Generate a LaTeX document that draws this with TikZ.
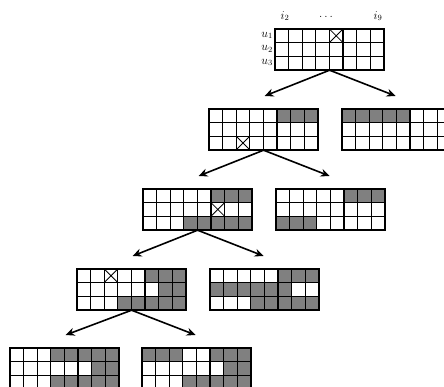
\documentclass[tikz,border=0pt]{standalone}
\usetikzlibrary{arrows.meta,calc}
\tikzset{
  gridbox/.style={draw=none, inner sep=0pt, minimum width=108.8pt, minimum height=40.8pt, anchor=north west},
  cellline/.style={line width=1.2pt},
  frameline/.style={line width=1.9pt},
  shadecell/.style={fill=gray},
  crossline/.style={line width=0.8pt},
  arr/.style={line width=1.6pt, -{Stealth[length=9pt,width=8pt]}},
  lab/.style={inner sep=0pt, font=\large}
}
\newcommand\mygrid[4]{%
  \begin{scope}[shift={#2}]
    \node[gridbox] (#1) at (0,0) {};
    \foreach \r/\c in {#3} {\fill[shadecell] ({(\c-1)*13.6},{(\r-1)*13.6}) rectangle ++(13.6,13.6);}
    \foreach \i in {1,...,7} {\draw[cellline] ({\i*13.6},0) -- ++(0,40.8);}
    \foreach \j in {1,2} {\draw[cellline] (0,{\j*13.6}) -- ++(108.8,0);}
    \foreach \r/\c in {#4} {\draw[crossline] ({(\c-1)*13.6},{(\r-1)*13.6}) -- ++(13.6,13.6) ({\c*13.6},{(\r-1)*13.6}) -- ++(-13.6,13.6);}
    \draw[frameline] (0,0) rectangle (108.8,40.8);
  \end{scope}}
\begin{document}
\begin{tikzpicture}[x=1pt,y=-1pt]
  \useasboundingbox (0,0) rectangle (444,387);
  \clip (0,0) rectangle (444,387);
  % level 1
  \mygrid{g1}{(275,29)}{}{1/5}
  \node[lab] (i2) at (285,16) {$i_2$};
  \node[lab] (dots) at (326,17) {$\dots$};
  \node[lab] (i9) at (378,16) {$i_9$};
  \node[lab, anchor=east] (u1) at (273,35.5) {$u_1$};
  \node[lab, anchor=east] (u2) at (273,49) {$u_2$};
  \node[lab, anchor=east] (u3) at (273,62.5) {$u_3$};
  % level 2
  \mygrid{g2l}{(209,109)}{1/6,1/7,1/8}{3/3}
  \mygrid{g2r}{(342,109)}{1/1,1/2,1/3,1/4,1/5}{}
  % level 3
  \mygrid{g3l}{(143,189)}{1/6,1/7,1/8,3/4,3/5,3/6,3/7,3/8}{2/6}
  \mygrid{g3r}{(276,189)}{1/6,1/7,1/8,3/1,3/2,3/3}{}
  % level 4
  \mygrid{g4l}{(77,269)}{1/6,1/7,1/8,2/7,2/8,3/4,3/5,3/6,3/7,3/8}{1/3}
  \mygrid{g4r}{(210,269)}{1/6,1/7,1/8,2/1,2/2,2/3,2/4,2/5,2/6,3/4,3/5,3/6,3/7,3/8}{}
  % level 5
  \mygrid{g5l}{(10,348)}{1/4,1/5,1/6,1/7,1/8,2/7,2/8,3/4,3/5,3/6,3/7,3/8}{}
  \mygrid{g5r}{(142,348)}{1/1,1/2,1/3,1/6,1/7,1/8,2/7,2/8,3/4,3/5,3/6,3/7,3/8}{}
  % arrows
  \draw[arr] (g1.south) -- ($(g2l.north)+(1,-13)$);
  \draw[arr] (g1.south) -- ($(g2r.north)+(-1,-13)$);
  \draw[arr] (g2l.south) -- ($(g3l.north)+(1,-13)$);
  \draw[arr] (g2l.south) -- ($(g3r.north)+(-1,-13)$);
  \draw[arr] (g3l.south) -- ($(g4l.north)+(1,-13)$);
  \draw[arr] (g3l.south) -- ($(g4r.north)+(-1,-13)$);
  \draw[arr] (g4l.south) -- ($(g5l.north)+(1,-13)$);
  \draw[arr] (g4l.south) -- ($(g5r.north)+(-1,-13)$);
\end{tikzpicture}
\end{document}
